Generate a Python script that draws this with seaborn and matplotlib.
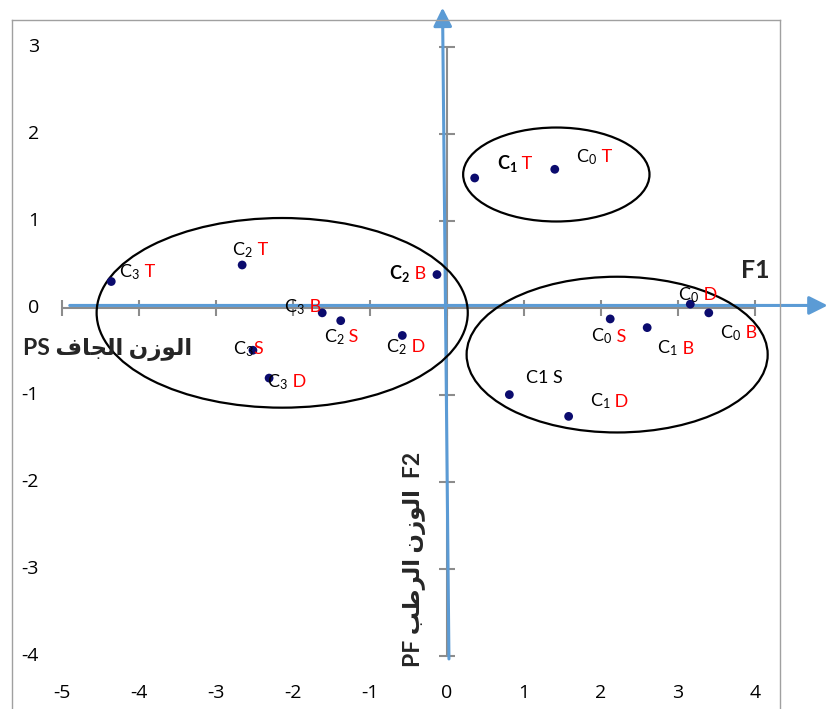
import numpy as np
import matplotlib
matplotlib.use('Agg')
import matplotlib.pyplot as plt
import seaborn as sns
import pandas as pd
from matplotlib.patches import Ellipse
from matplotlib.offsetbox import TextArea, HPacker, AnnotationBbox

# points (F1, F2)
f1 = [-4.36, -2.66, -0.13, -1.62, -1.38, -0.58, -2.52, -2.31, 0.36, 1.40, 3.16, 3.40, 2.12, 2.60, 0.81, 1.58]
f2 = [0.31, 0.50, 0.39, -0.05, -0.14, -0.31, -0.48, -0.80, 1.50, 1.60, 0.05, -0.05, -0.12, -0.22, -0.99, -1.24]
black_txt = ['C$_3$', 'C$_2$', r'C$_\mathbf{2}$', 'C$_3$', 'C$_2$', 'C$_2$', 'C$_3$', 'C$_3$',
             r'C$_\mathbf{1}$', 'C$_0$', 'C$_0$', 'C$_0$', 'C$_0$', 'C$_1$', 'C1 S', 'C$_1$']
red_txt = [' T', ' T', ' B', ' B', ' S', ' D', 'S', ' D', ' T', ' T', ' D', ' B', ' S', ' B', '', ' D']
bold_black = [False, False, True, False, False, False, False, False,
              True, False, False, False, False, False, False, False]
# label placement (pixels from the point, left edge / cap centre)
lab_dx = [8, -10, -48, -38, -17, -16, -20, -2, 22, 21, -12, 11, -19, 10, 17, 21]
lab_dy = [-11.5, -17, -3.5, -8, 14, 9.5, -3.5, 2, -16, -14, -11, 18.5, 15.5, 19, -18.5, -17]

# group ellipses
ell_cx = [-2.14, 1.42, 2.21]
ell_cy = [-0.05, 1.54, -0.53]
ell_w = [4.82, 2.42, 3.91]
ell_h = [2.18, 1.08, 1.79]

xticks = [-5, -4, -3, -2, -1, 0, 1, 2, 3, 4]
yticks = [-4, -3, -2, -1, 0, 1, 2, 3]

# arabic labels written in presentation forms (visual order)
ps_label = 'PS ' + '\ufed1\ufe8e\ufea0\ufedf\ufe8d' + ' ' + '\ufee5\ufeaf\ufeee\ufedf\ufe8d'
pf_label = 'PF ' + '\ufe90\ufec3\ufeae\ufedf\ufe8d' + ' ' + '\ufee5\ufeaf\ufeee\ufedf\ufe8d' + '  F2'

sns.set_style('white')
plt.rcParams['font.family'] = ['Lato', 'DejaVu Sans']
plt.rcParams['mathtext.fontset'] = 'custom'
plt.rcParams['mathtext.rm'] = 'Lato'
plt.rcParams['mathtext.bf'] = 'Lato:bold'
plt.rcParams['mathtext.default'] = 'regular'

df = pd.DataFrame({'F1': f1, 'F2': f2})

fig = plt.figure(figsize=(8.3, 7.09), dpi=100)
ax = fig.add_axes([12 / 830, 1 - 720 / 709, 768 / 830, 700 / 709])
ax.set_xlim(-5.649, 4.325)
ax.set_ylim(-4.73, 3.316)
ax.set_xticks([])
ax.set_yticks([])
for s in ['top', 'left', 'right']:
    ax.spines[s].set_color('#a0a0a0')
    ax.spines[s].set_linewidth(1.0)
ax.spines['bottom'].set_visible(False)

gray = '#8c8c8c'
ax.plot([xticks[0], xticks[-1]], [0, 0], color=gray, lw=1.5, zorder=1)
ax.plot([0, 0], [yticks[0], yticks[-1]], color=gray, lw=1.5, zorder=1)
ax.plot(xticks, np.zeros(len(xticks)), ls='none', marker='|', ms=11.5, mew=1.5, color=gray, zorder=1)
ax.plot(np.zeros(len(yticks)), yticks, ls='none', marker='_', ms=12, mew=1.5, color=gray, zorder=1)

tick_font = ['Open Sans', 'DejaVu Sans']
for v in yticks:
    ax.text(-5.30, v, str(v), ha='right', va='center', fontsize=14, color='black', family=tick_font)
for v in xticks:
    ax.text(v, -4.42, str(v), ha='center', va='center', fontsize=14, color='black', family=tick_font)

blue = '#5b9bd5'
ax.annotate('', xy=(4.98, 0.035), xytext=(-4.935, 0.035),
            arrowprops=dict(arrowstyle='-|>', color=blue, lw=2.2, mutation_scale=28),
            annotation_clip=False, zorder=2)
ax.annotate('', xy=(-0.058, 3.49), xytext=(0.026, -4.06),
            arrowprops=dict(arrowstyle='-|>', color=blue, lw=2.2, mutation_scale=28),
            annotation_clip=False, zorder=2)

for cx, cy, w, h in zip(ell_cx, ell_cy, ell_w, ell_h):
    ax.add_patch(Ellipse((cx, cy), w, h, fill=False, edgecolor='black', lw=1.6, zorder=3))

sns.scatterplot(data=df, x='F1', y='F2', ax=ax, color='#0b0b6e', s=40, edgecolor='none', zorder=4)
ax.set_xlabel('')
ax.set_ylabel('')

for i in range(len(f1)):
    parts = [TextArea(black_txt[i], textprops=dict(color='black', fontsize=13,
                                                   fontweight='bold' if bold_black[i] else 'normal'))]
    if red_txt[i]:
        parts.append(TextArea(red_txt[i], textprops=dict(color='#ff0000', fontsize=13)))
    box = HPacker(children=parts, align='baseline', pad=0, sep=0)
    ab = AnnotationBbox(box, (f1[i], f2[i]), xybox=(lab_dx[i], -lab_dy[i] - 2),
                        xycoords='data', boxcoords='offset pixels', box_alignment=(0, 0.5),
                        frameon=False, pad=0, zorder=5)
    ax.add_artist(ab)

ax.text(4.0, 0.437, 'F1', ha='center', va='center', fontsize=18, fontweight='bold')
ax.text(-5.506, -0.477, ps_label, ha='left', va='center', fontsize=16.5, fontweight='bold')
ax.text(-0.416, -2.89, pf_label, ha='center', va='center', fontsize=16.5, fontweight='bold', rotation=90)

fig.savefig('out.png', dpi=100)
